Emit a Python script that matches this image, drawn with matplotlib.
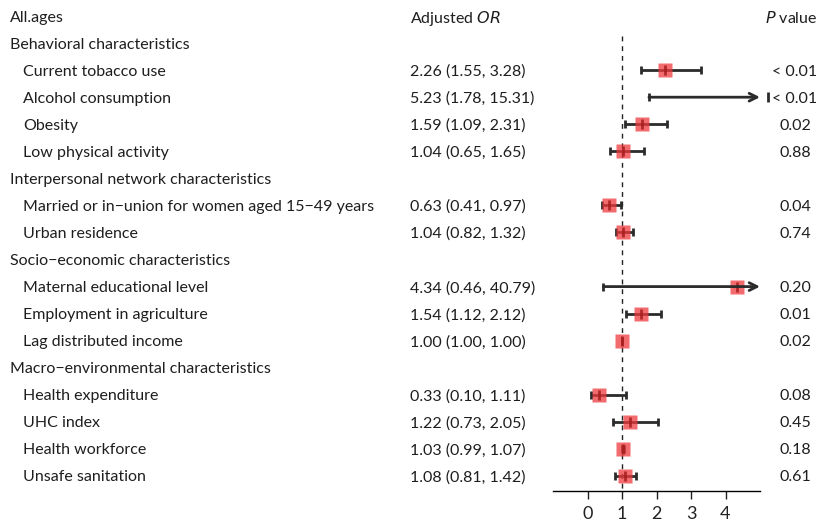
import numpy as np
import matplotlib.pyplot as plt
import matplotlib.transforms as mtransforms

plt.rcParams['font.family'] = ['Lato', 'DejaVu Sans']

# rows: (label, is_header)
labels = ["Behavioral characteristics", "Current tobacco use", "Alcohol consumption",
          "Obesity", "Low physical activity",
          "Interpersonal network characteristics",
          "Married or in\u2212union for women aged 15\u221249 years", "Urban residence",
          "Socio\u2212economic characteristics", "Maternal educational level",
          "Employment in agriculture", "Lag distributed income",
          "Macro\u2212environmental characteristics", "Health expenditure", "UHC index",
          "Health workforce", "Unsafe sanitation"]
is_header = [True, False, False, False, False, True, False, False, True, False, False, False,
             True, False, False, False, False]
or_est = [np.nan, 2.26, 5.23, 1.59, 1.04, np.nan, 0.63, 1.04, np.nan, 4.34, 1.54, 1.00,
          np.nan, 0.33, 1.22, 1.03, 1.08]
ci_low = [np.nan, 1.55, 1.78, 1.09, 0.65, np.nan, 0.41, 0.82, np.nan, 0.46, 1.12, 1.00,
          np.nan, 0.10, 0.73, 0.99, 0.81]
ci_high = [np.nan, 3.28, 15.31, 2.31, 1.65, np.nan, 0.97, 1.32, np.nan, 40.79, 2.12, 1.00,
           np.nan, 1.11, 2.05, 1.07, 1.42]
p_vals = ["", "< 0.01", "< 0.01", "0.02", "0.88", "", "0.04", "0.74", "", "0.20", "0.01",
          "0.02", "", "0.08", "0.45", "0.18", "0.61"]

W, H = 818, 522
fig = plt.figure(figsize=(W / 100, H / 100), dpi=100)
ax = fig.add_axes([553 / W, 1 - 491 / H, (760 - 553) / W, (491 - 2.5) / H])
xmax = 5
ax.set_xlim(-1, xmax)
ax.set_ylim(len(labels) + 0.555, -0.5)

for s in ['top', 'right', 'left']:
    ax.spines[s].set_visible(False)
ax.spines['bottom'].set_linewidth(1.0)
ax.set_yticks([])
ax.set_xticks([0, 1, 2, 3, 4])
ax.tick_params(axis='x', length=6, width=1, labelsize=13, pad=5, colors='#222222')

ax.vlines(1, 0.72, len(labels) + 0.555, colors='#222222', linestyles=(0, (3.5, 3.5)), lw=1)

line_c = '#2b2b2b'
for i in range(len(labels)):
    r = i + 1
    if is_header[i]:
        continue
    est, lo, hi = or_est[i], ci_low[i], ci_high[i]
    if hi > xmax:
        ax.annotate('', xy=(xmax, r), xytext=(lo, r),
                    arrowprops=dict(arrowstyle='->', color=line_c, lw=2, mutation_scale=14,
                                    shrinkA=0, shrinkB=0))
        ax.plot([lo], [r], marker='|', ms=6, mew=2, color=line_c)
    else:
        ax.hlines(r, lo, hi, colors=line_c, lw=2)
        ax.plot([lo, hi], [r, r], ls='none', marker='|', ms=6, mew=2, color=line_c)
    if est <= xmax:
        ax.plot([est], [r], marker='s', ms=9.5, color='#ee3b3f', alpha=0.75, mec='none')
        ax.plot([est], [r], marker='|', ms=6.5, mew=2, color='#a81c1c', alpha=0.85)
    else:
        ax.plot([est], [r], marker='|', ms=6.5, mew=2, color=line_c, clip_on=False)

tr = mtransforms.blended_transform_factory(fig.transFigure, ax.transData)
fs = 11.5
tc = '#1e1e1e'
ax.text(10 / W, 0, "All.ages", transform=tr, fontsize=fs, va='center_baseline', color=tc)
ax.text(410 / W, 0, "Adjusted $\\it{OR}$", transform=tr, fontsize=fs, va='center_baseline',
        color=tc)
ax.text(817 / W, 0, "$\\it{P}$ value", transform=tr, fontsize=fs, va='center_baseline',
        ha='right', color=tc)
for i, lab in enumerate(labels):
    r = i + 1
    x0 = 10 if is_header[i] else 23
    ax.text(x0 / W, r, lab, transform=tr, fontsize=fs, va='center_baseline', color=tc)
    if not is_header[i]:
        ax.text(410 / W, r, f"{or_est[i]:.2f} ({ci_low[i]:.2f}, {ci_high[i]:.2f})",
                transform=tr, fontsize=fs, va='center_baseline', color=tc)
        ax.text(795 / W, r, p_vals[i], transform=tr, fontsize=fs, va='center_baseline',
                ha='center', color=tc)

fig.savefig('out.png', dpi=100)
